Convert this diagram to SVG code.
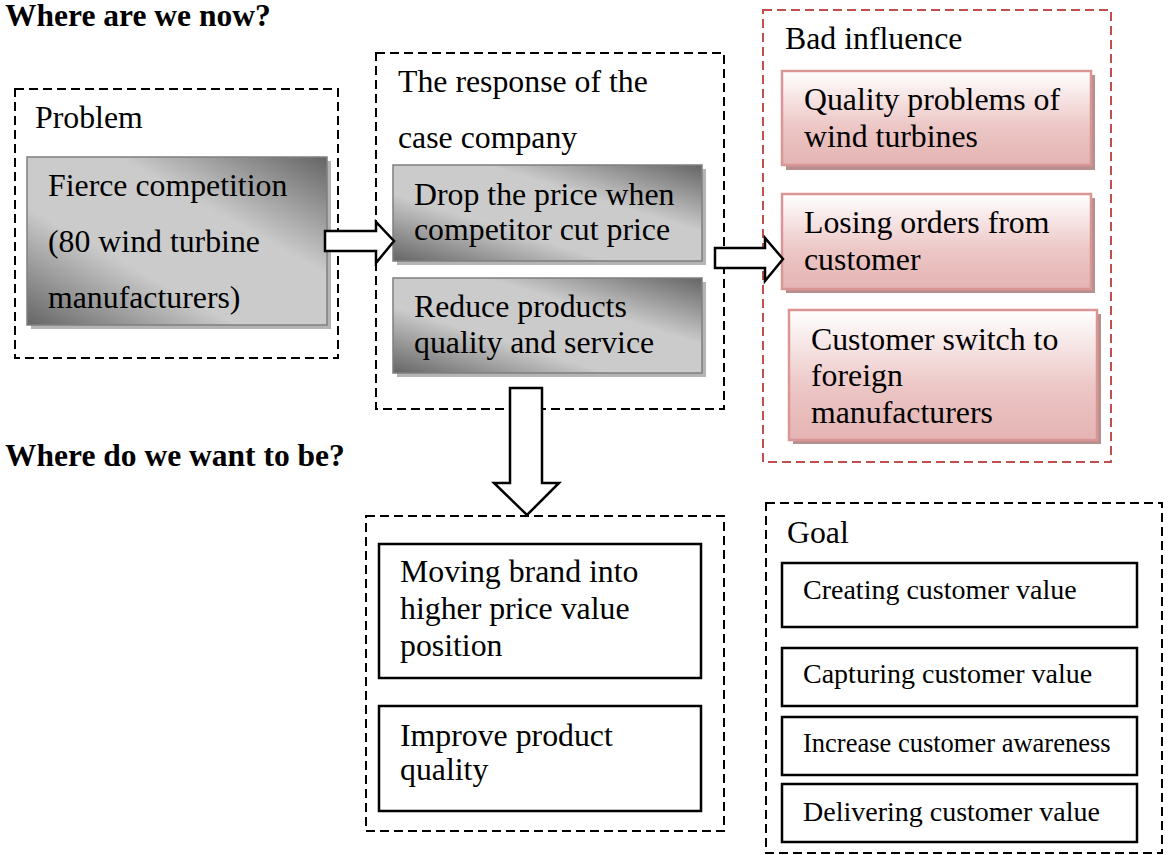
<svg xmlns="http://www.w3.org/2000/svg" width="1171" height="855" viewBox="0 0 1171 855">
<style>
text{font-family:"Liberation Serif","Times New Roman",serif;fill:#000}
.h{font-weight:bold;font-size:31.5px}
.t{font-size:31.8px}
.g{font-size:28px}
.dash{fill:none;stroke:#000;stroke-width:2;stroke-dasharray:9 5}
.rdash{fill:none;stroke:#c0504d;stroke-width:2;stroke-dasharray:9 5}
.gray{fill:url(#gg);stroke:#7f7f7f;stroke-width:1.5}
.gsh{fill:#b4b4b4}
.pink{fill:url(#pg);stroke:#d99694;stroke-width:2.5}
.psh{fill:#b88f8f}
.box{fill:#fff;stroke:#000;stroke-width:2.5}
.arr{fill:#fff;stroke:#000;stroke-width:2.5;stroke-linejoin:miter}
</style>
<defs>
<linearGradient id="gg" x1="1" y1="0" x2="0" y2="1">
<stop offset="0" stop-color="#656565"/>
<stop offset="0.35" stop-color="#cbcbcb"/>
<stop offset="0.65" stop-color="#cbcbcb"/>
<stop offset="1" stop-color="#656565"/>
</linearGradient>
<linearGradient id="pg" x1="0" y1="0" x2="0" y2="1">
<stop offset="0" stop-color="#ffffff"/>
<stop offset="0.6" stop-color="#ecc6c5"/>
<stop offset="1" stop-color="#e4b4b3"/>
</linearGradient>
</defs>
<rect width="1171" height="855" fill="#fff"/>

<text class="h" x="5" y="26">Where are we now?</text>
<text class="h" x="5" y="466">Where do we want to be?</text>

<g id="problem">
<rect class="dash" x="15" y="89" width="323" height="269"/>
<text class="t" x="35" y="128">Problem</text>
<g id="fierce">
<rect class="gsh" x="31" y="161" width="300" height="168"/>
<rect class="gray" x="27" y="157" width="300" height="168"/>
<text class="t" x="48" y="196">Fierce competition</text>
<text class="t" x="48" y="252">(80 wind turbine</text>
<text class="t" x="48" y="308">manufacturers)</text>
</g>
</g>

<g id="response">
<rect class="dash" x="376" y="53" width="348" height="356"/>
<text class="t" x="398" y="92">The response of the</text>
<text class="t" x="398" y="148">case company</text>
<g id="drop">
<rect class="gsh" x="397" y="169" width="309" height="96"/>
<rect class="gray" x="393" y="165" width="309" height="96"/>
<text class="t" x="414" y="205">Drop the price when</text>
<text class="t" x="414" y="240">competitor cut price</text>
</g>
<g id="reduce">
<rect class="gsh" x="397" y="282" width="309" height="95"/>
<rect class="gray" x="393" y="278" width="309" height="95"/>
<text class="t" x="414" y="317">Reduce products</text>
<text class="t" x="414" y="353">quality and service</text>
</g>
</g>

<g id="bad">
<rect class="rdash" x="763" y="10" width="348" height="452"/>
<text class="t" x="785" y="49">Bad influence</text>
<g id="quality">
<rect class="psh" x="786" y="75" width="309" height="95"/>
<rect class="pink" x="782" y="71" width="309" height="94"/>
<text class="t" x="804" y="110">Quality problems of</text>
<text class="t" x="804" y="147">wind turbines</text>
</g>
<g id="losing">
<rect class="psh" x="786" y="198" width="309" height="95"/>
<rect class="pink" x="782" y="194" width="309" height="95"/>
<text class="t" x="804" y="233">Losing orders from</text>
<text class="t" x="804" y="270">customer</text>
</g>
<g id="switch">
<rect class="psh" x="793" y="314" width="308" height="130"/>
<rect class="pink" x="789" y="310" width="308" height="130"/>
<text class="t" x="811" y="350">Customer switch to</text>
<text class="t" x="811" y="386">foreign</text>
<text class="t" x="811" y="423">manufacturers</text>
</g>
</g>

<g id="want">
<rect class="dash" x="366" y="516" width="358" height="315"/>
<g id="moving">
<rect class="box" x="379" y="544" width="322" height="134"/>
<text class="t" x="400" y="582">Moving brand into</text>
<text class="t" x="400" y="619">higher price value</text>
<text class="t" x="400" y="656">position</text>
</g>
<g id="improve">
<rect class="box" x="379" y="706" width="322" height="105"/>
<text class="t" x="400" y="746">Improve product</text>
<text class="t" x="400" y="780">quality</text>
</g>
</g>

<g id="goal">
<rect class="dash" x="766" y="503" width="396" height="350"/>
<text class="t" x="787" y="543">Goal</text>
<g id="creating">
<rect class="box" x="782" y="563" width="355" height="64"/>
<text class="g" x="803" y="599">Creating customer value</text>
</g>
<g id="capturing">
<rect class="box" x="782" y="648" width="355" height="58"/>
<text class="g" x="803" y="683">Capturing customer value</text>
</g>
<g id="increase">
<rect class="box" x="782" y="717" width="355" height="58"/>
<text class="g" x="803" y="752" style="font-size:26.5px">Increase customer awareness</text>
</g>
<g id="delivering">
<rect class="box" x="782" y="784" width="355" height="58"/>
<text class="g" x="803" y="821">Delivering customer value</text>
</g>
</g>

<g id="connectors">
<path class="arr" d="M325 231 H376 V222 L394 241 L376 263 V251 H325 Z"/>
<path class="arr" d="M715 248 H765 V238 L783 259 L765 281 V268 H715 Z"/>
<path class="arr" d="M510 388 H542 V483 H559 L527 515 L494 483 H510 Z"/>
</g>
</svg>
